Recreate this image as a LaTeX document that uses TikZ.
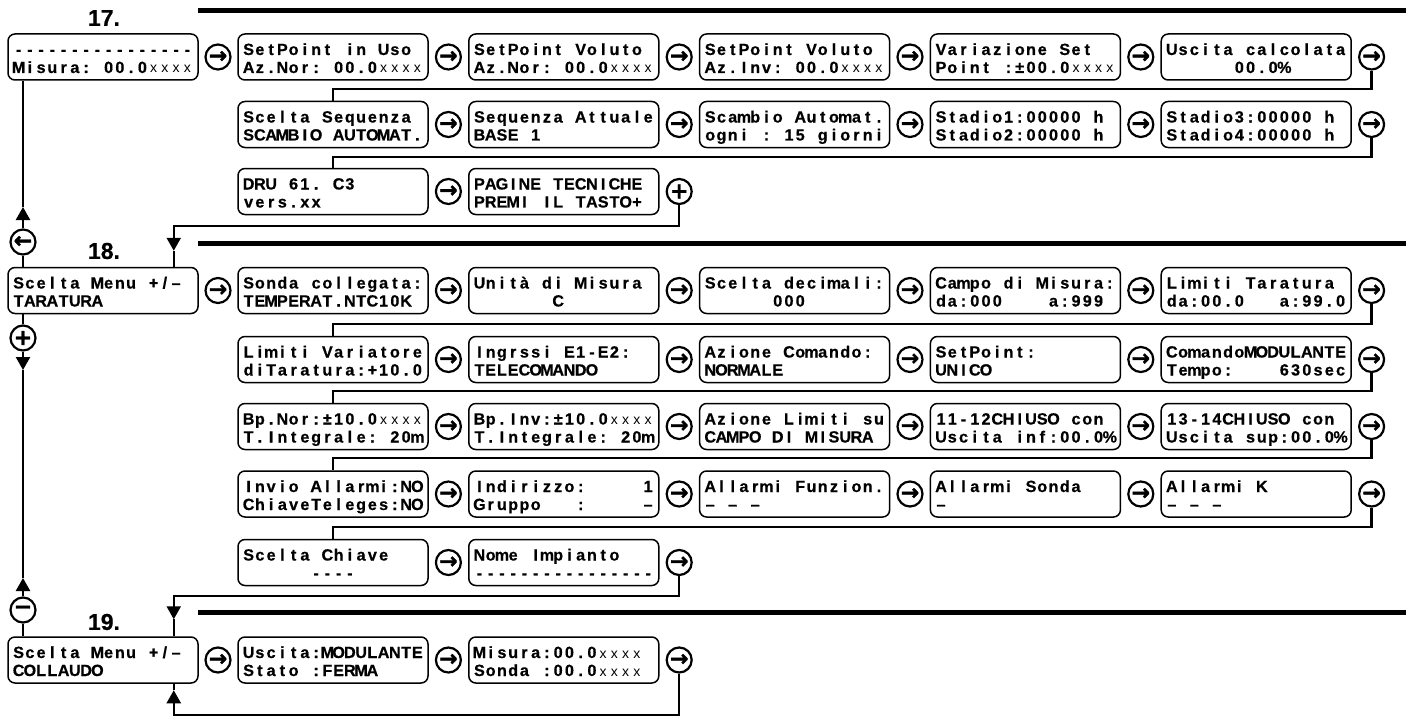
\documentclass[tikz,border=0pt]{standalone}
\usepackage{fontspec}
\setmainfont{Liberation Sans}[BoldFeatures={FakeBold=0.6}]
\newfontfamily\keyfont{DejaVu Sans}[BoldFeatures={FakeBold=1.6}]
\usepackage{tikz}
\usetikzlibrary{arrows.meta, positioning}

% one character per cell of the display
\newlength\lcdcell
\setlength\lcdcell{5.625pt}
\newcommand\smx{{\mdseries\fontsize{7}{7}\selectfont x}}
\ExplSyntaxOn
\cs_new:Npn \lcd #1 { \tl_map_inline:nn {#1} { \makebox[\lcdcell][c]{##1} } }
\ExplSyntaxOff

\tikzstyle{screen} = [rectangle, rounded corners=3.5pt, draw=black, line width=0.75pt, text width=90pt, inner xsep=2.5pt, inner ysep=0pt, minimum height=23pt, text height=7pt, text depth=9pt, align=left, font=\bfseries\fontsize{8.1}{9}\selectfont]
\tikzstyle{key} = [circle, draw=black, line width=1.1pt, minimum size=12.5pt, inner sep=0pt, font=\keyfont\bfseries\fontsize{11}{11}\selectfont]
\tikzstyle{link} = [line width=1.2pt]
\tikzstyle{pointer} = [line width=1.2pt, -{Triangle[width=7pt,length=6.5pt]}]
\tikzstyle{bar} = [line width=2.5pt]
\tikzstyle{title} = [inner sep=0pt, font=\bfseries\fontsize{11.5}{12}\selectfont]

\begin{document}
\begin{tikzpicture}[x=0.5pt, y=-0.5pt, node distance=57.7pt]
\useasboundingbox (0,0) rectangle (1412,717);

            % Section 17
            \node (t17) [title] at (104,18) {17.};
            \draw [bar] (198,11) -- (1406,11);
            \node (misura) [screen] at (103,57) {\lcd{----------------}\\\lcd{Misura:~00.0\smx\smx\smx\smx}};
            \node (kmis) [key, right of=misura, node distance=57.5pt] {→};
            \node (spuso) [screen, right of=kmis, node distance=57.5pt] {\lcd{SetPoint~in~Uso}\\\lcd{Az.Nor:~00.0\smx\smx\smx\smx}};
            \node (kuso) [key, right of=spuso] {→};
            \node (spnor) [screen, right of=kuso] {\lcd{SetPoint~Voluto}\\\lcd{Az.Nor:~00.0\smx\smx\smx\smx}};
            \node (knor) [key, right of=spnor] {→};
            \node (spinv) [screen, right of=knor] {\lcd{SetPoint~Voluto}\\\lcd{Az.Inv:~00.0\smx\smx\smx\smx}};
            \node (kinv) [key, right of=spinv] {→};
            \node (varset) [screen, right of=kinv] {\lcd{Variazione~Set}\\\lcd{Point~:±00.0\smx\smx\smx\smx}};
            \node (kvar) [key, right of=varset] {→};
            \node (uscalc) [screen, right of=kvar] {\lcd{Uscita~calcolata}\\\lcd{~~~~~~00.0\%}};
            \node (kcalc) [key, right of=uscalc] {→};

            \node (sequenza) [screen, below of=spuso, node distance=33.75pt] {\lcd{Scelta~Sequenza}\\\lcd{SCAMBIO~AUTOMAT.}};
            \node (kseq) [key, right of=sequenza] {→};
            \node (attuale) [screen, right of=kseq] {\lcd{Sequenza~Attuale}\\\lcd{BASE~1}};
            \node (katt) [key, right of=attuale] {→};
            \node (scambio) [screen, right of=katt] {\lcd{Scambio~Automat.}\\\lcd{ogni~:~15~giorni}};
            \node (kscam) [key, right of=scambio] {→};
            \node (stadio12) [screen, right of=kscam] {\lcd{Stadio1:00000~h}\\\lcd{Stadio2:00000~h}};
            \node (ks12) [key, right of=stadio12] {→};
            \node (stadio34) [screen, right of=ks12] {\lcd{Stadio3:00000~h}\\\lcd{Stadio4:00000~h}};
            \node (ks34) [key, right of=stadio34] {→};

            \node (dru) [screen, below of=sequenza, node distance=33.5pt] {\lcd{DRU~61.~C3}\\\lcd{vers.xx}};
            \node (kdru) [key, right of=dru] {→};
            \node (pagine) [screen, right of=kdru] {\lcd{PAGINE~TECNICHE}\\\lcd{PREMI~IL~TASTO+}};
            \node (kpag) [key, right of=pagine] {+};

            % Section 18
            \node (t18) [title] at (104,251) {18.};
            \draw [bar] (198,243) -- (1406,243);
            \node (taratura) [screen] at (103,290.5) {\lcd{Scelta~Menu~+/–}\\\lcd{TARATURA}};
            \node (ktar) [key, right of=taratura, node distance=57.5pt] {→};
            \node (sonda) [screen, right of=ktar, node distance=57.5pt] {\lcd{Sonda~collegata:}\\\lcd{TEMPERAT.NTC10K}};
            \node (ksonda) [key, right of=sonda] {→};
            \node (unita) [screen, right of=ksonda] {\lcd{Unità~di~Misura}\\\lcd{~~~~~~~C}};
            \node (kunita) [key, right of=unita] {→};
            \node (decimali) [screen, right of=kunita] {\lcd{Scelta~decimali:}\\\lcd{~~~~~~000}};
            \node (kdec) [key, right of=decimali] {→};
            \node (campo) [screen, right of=kdec] {\lcd{Campo~di~Misura:}\\\lcd{da:000~~~~a:999}};
            \node (kcampo) [key, right of=campo] {→};
            \node (limtar) [screen, right of=kcampo] {\lcd{Limiti~Taratura}\\\lcd{da:00.0~~~a:99.0}};
            \node (klimtar) [key, right of=limtar] {→};

            \node (limvar) [screen, below of=sonda, node distance=34.5pt] {\lcd{Limiti~Variatore}\\\lcd{diTaratura:+10.0}};
            \node (klimvar) [key, right of=limvar] {→};
            \node (ingressi) [screen, right of=klimvar] {\lcd{Ingrssi~E1-E2:}\\\lcd{TELECOMANDO}};
            \node (king) [key, right of=ingressi] {→};
            \node (azcom) [screen, right of=king] {\lcd{Azione~Comando:}\\\lcd{NORMALE}};
            \node (kazcom) [key, right of=azcom] {→};
            \node (setp) [screen, right of=kazcom] {\lcd{SetPoint:}\\\lcd{UNICO}};
            \node (ksetp) [key, right of=setp] {→};
            \node (comando) [screen, right of=ksetp] {\lcd{ComandoMODULANTE}\\\lcd{Tempo:~~~~630sec}};
            \node (kcom) [key, right of=comando] {→};

            \node (bpnor) [screen, below of=limvar, node distance=33.5pt] {\lcd{Bp.Nor:±10.0\smx\smx\smx\smx}\\\lcd{T.Integrale:~20m}};
            \node (kbpnor) [key, right of=bpnor] {→};
            \node (bpinv) [screen, right of=kbpnor] {\lcd{Bp.Inv:±10.0\smx\smx\smx\smx}\\\lcd{T.Integrale:~20m}};
            \node (kbpinv) [key, right of=bpinv] {→};
            \node (azlim) [screen, right of=kbpinv] {\lcd{Azione~Limiti~su}\\\lcd{CAMPO~DI~MISURA}};
            \node (kazlim) [key, right of=azlim] {→};
            \node (chiuso1) [screen, right of=kazlim] {\lcd{11-12CHIUSO~con}\\\lcd{Uscita~inf:00.0\%}};
            \node (kch1) [key, right of=chiuso1] {→};
            \node (chiuso2) [screen, right of=kch1] {\lcd{13-14CHIUSO~con}\\\lcd{Uscita~sup:00.0\%}};
            \node (kch2) [key, right of=chiuso2] {→};

            \node (invio) [screen, below of=bpnor, node distance=33.75pt] {\lcd{Invio~Allarmi:NO}\\\lcd{ChiaveTeleges:NO}};
            \node (kinvio) [key, right of=invio] {→};
            \node (indirizzo) [screen, right of=kinvio] {\lcd{Indirizzo:~~~~~1}\\\lcd{Gruppo~~~:~~~~~–}};
            \node (kind) [key, right of=indirizzo] {→};
            \node (allfunz) [screen, right of=kind] {\lcd{Allarmi~Funzion.}\\\lcd{–~–~–}};
            \node (kallf) [key, right of=allfunz] {→};
            \node (allsonda) [screen, right of=kallf] {\lcd{Allarmi~Sonda}\\\lcd{–}};
            \node (kalls) [key, right of=allsonda] {→};
            \node (allk) [screen, right of=kalls] {\lcd{Allarmi~K}\\\lcd{–~–~–}};
            \node (kallk) [key, right of=allk] {→};

            \node (chiave) [screen, below of=invio, node distance=34.25pt] {\lcd{Scelta~Chiave}\\\lcd{~~~~~~----}};
            \node (kchiave) [key, right of=chiave] {→};
            \node (impianto) [screen, right of=kchiave] {\lcd{Nome~Impianto}\\\lcd{----------------}};
            \node (kimp) [key, right of=impianto] {→};

            % Section 19
            \node (t19) [title] at (104,622) {19.};
            \draw [bar] (198,612) -- (1406,612);
            \node (collaudo) [screen] at (103,660) {\lcd{Scelta~Menu~+/–}\\\lcd{COLLAUDO}};
            \node (kcoll) [key, right of=collaudo, node distance=57.5pt] {→};
            \node (uscita) [screen, right of=kcoll, node distance=57.5pt] {\lcd{Uscita:MODULANTE}\\\lcd{Stato~:FERMA}};
            \node (kusc) [key, right of=uscita] {→};
            \node (misure) [screen, right of=kusc] {\lcd{Misura:00.0\smx\smx\smx\smx}\\\lcd{Sonda~:00.0\smx\smx\smx\smx}};
            \node (kmisure) [key, right of=misure] {→};

            % Keys on the left
            \node (kback) [key] at (23,242) {←};
            \node (kplus) [key] at (23,338) {+};
            \node (kminus) [key] at (23,610) {−};
            \coordinate (upa) at (23,207);
            \coordinate (dna) at (23,370);
            \coordinate (upb) at (23,578);
            \coordinate (in18) at ([xshift=-12.5pt, yshift=8pt]taratura.north east);
            \coordinate (in19) at ([xshift=-12.5pt, yshift=8.5pt]collaudo.north east);
            \coordinate (ret19) at ([xshift=-12.5pt, yshift=-3.25pt]collaudo.south east);

            % Draw edges
            \draw [pointer] (kback.north) -- (upa);
            \draw [link] (upa) -- (kback |- misura.south);
            \draw [link] (kback.south) -- (kback |- taratura.north);
            \draw [link] (kplus.north) -- (kplus |- taratura.south);
            \draw [pointer] (kplus.south) -- (dna);
            \draw [link] (dna) -- (upb);
            \draw [pointer] (kminus.north) -- (upb);
            \draw [link] (kminus.south) -- (kminus |- collaudo.north);

            \draw [link] (kcalc.south) |- ([yshift=6pt]sequenza.north) -- (sequenza.north);
            \draw [link] (ks34.south) |- ([yshift=5.5pt]dru.north) -- (dru.north);
            \draw [link] (klimtar.south) |- ([yshift=5.75pt]limvar.north) -- (limvar.north);
            \draw [link] (kcom.south) |- ([yshift=5.75pt]bpnor.north) -- (bpnor.north);
            \draw [link] (kch2.south) |- ([yshift=6pt]invio.north) -- (invio.north);
            \draw [link] (kallk.south) |- ([yshift=6pt]chiave.north) -- (chiave.north);

            \draw [pointer] (kpag.south) |- ([yshift=12.5pt]in18) -- (in18);
            \draw [link] (in18) -- (in18 |- taratura.north);
            \draw [pointer] (kimp.south) |- ([yshift=11.5pt]in19) -- (in19);
            \draw [link] (in19) -- (in19 |- collaudo.north);
            \draw [pointer] (kmisure.south) |- ([yshift=-12.5pt]ret19) -- (ret19);
            \draw [link] (ret19) -- (ret19 |- collaudo.south);
\end{tikzpicture}
\end{document}
